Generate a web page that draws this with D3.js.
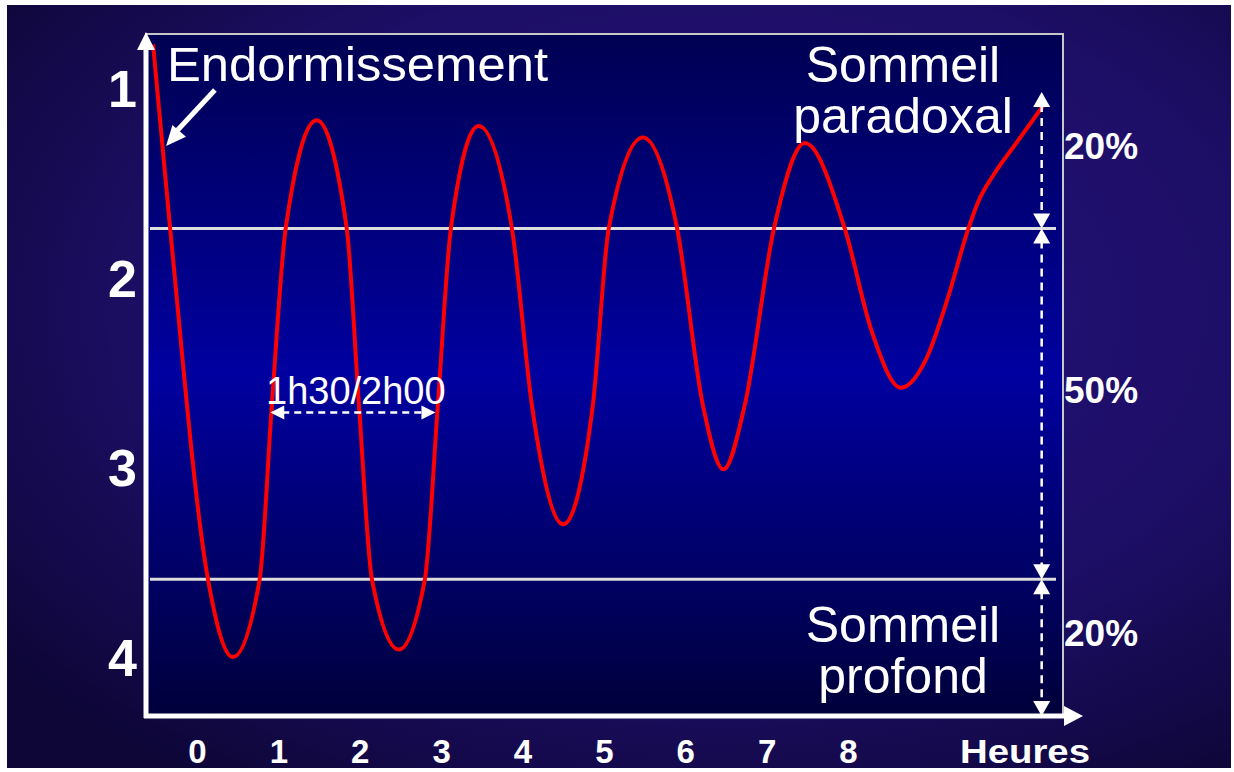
<!DOCTYPE html>
<html>
<head>
<meta charset="utf-8">
<script src="https://cdn.jsdelivr.net/npm/d3@7"></script>
<style>
  body { margin: 0; background: #fff; }
  svg { display: block; }
  text { font-family: "Liberation Sans", Arial, sans-serif; fill: #fff; }
</style>
</head>
<body>
<svg id="graphique" width="1234" height="772"></svg>
<script>
// heures (axe X) et stades de sommeil (axe Y)
const heures = [0, 1, 2, 3, 4, 5, 6, 7, 8];
const stades = [1, 2, 3, 4];
// limites entre sommeil paradoxal / leger / profond
const limites = [1.73, 3.58];
const bandes = [1.01, 1.73, 3.58, 4.3];
const pourcentages = ["20%", "50%", "20%"];
// hypnogramme
const courbeH = [-0.54, -0.33, 0.135, 0.44, 0.77, 0.92, 1.09, 1.47, 1.84, 1.99, 2.15, 2.48, 2.8, 2.96,
  3.12, 3.46, 3.87, 4.115, 4.5, 4.865, 5.06, 5.48, 5.9, 6.216, 6.47, 6.732, 7.09, 7.47, 7.96, 8.29,
  8.65, 8.97, 9.21, 9.48, 9.6, 9.8, 10.05, 10.42];
const courbeStade = [0.76, 1.73, 3.58, 3.99, 3.58, 2.66, 1.73, 1.16, 1.73, 2.66, 3.58, 3.95, 3.58, 2.66,
  1.73, 1.19, 1.73, 2.66, 3.29, 2.66, 1.73, 1.25, 1.73, 2.66, 3.0, 2.66, 1.73, 1.28, 1.73, 2.27,
  2.57, 2.41, 2.12, 1.73, 1.59, 1.44, 1.29, 1.07];
const cycle = [0.9, 2.93];

const svg = d3.select("#graphique");
const width = +svg.attr("width");
const height = +svg.attr("height");

const x = d3.scaleLinear().domain([0, 8]).range([197, 848]);
const y = d3.scaleLinear().domain([1, 4]).range([90, 659]);

const gauche = 146, droite = 1063, haut = 34, bas = 716;

const defs = svg.append("defs");
const fond = defs.append("radialGradient").attr("id", "fond")
  .attr("cx", "58%").attr("cy", "40%").attr("r", "75%");
fond.append("stop").attr("offset", "0%").attr("stop-color", "#26137e");
fond.append("stop").attr("offset", "60%").attr("stop-color", "#1d0e66");
fond.append("stop").attr("offset", "100%").attr("stop-color", "#0d0636");

const panneau = defs.append("linearGradient").attr("id", "panneau")
  .attr("x1", 0).attr("y1", 0).attr("x2", 0).attr("y2", 1);
panneau.append("stop").attr("offset", "0%").attr("stop-color", "#000052");
panneau.append("stop").attr("offset", "50%").attr("stop-color", "#0000a0");
panneau.append("stop").attr("offset", "100%").attr("stop-color", "#00003a");

svg.append("rect").attr("x", 7).attr("y", 5).attr("width", width - 10).attr("height", height - 9)
  .attr("fill", "url(#fond)");

svg.append("rect").attr("x", gauche).attr("y", haut)
  .attr("width", droite - gauche).attr("height", bas - haut)
  .attr("fill", "url(#panneau)").attr("stroke", "#c8c8c8").attr("stroke-width", 2);

// limites horizontales
svg.selectAll("line.limite")
  .data(limites)
  .join("line")
  .attr("class", "limite")
  .attr("x1", gauche + 4).attr("x2", droite - 7)
  .attr("y1", d => y(d)).attr("y2", d => y(d))
  .attr("stroke", "#dcdcdc").attr("stroke-width", 3);

// courbe
const points = courbeH.map((h, i) => [h, courbeStade[i]]);
svg.append("path")
  .datum(points)
  .attr("fill", "none")
  .attr("stroke", "#ff0000")
  .attr("stroke-width", 4)
  .attr("stroke-linejoin", "round")
  .attr("d", d3.line().x(d => x(d[0])).y(d => y(d[1])).curve(d3.curveMonotoneX));

function fleche(xt, yt, angle, long, larg) {
  const a = angle * Math.PI / 180;
  const bx = xt - Math.cos(a) * long, by = yt - Math.sin(a) * long;
  const px = -Math.sin(a) * larg / 2, py = Math.cos(a) * larg / 2;
  svg.append("path")
    .attr("d", `M${xt},${yt}L${bx + px},${by + py}L${bx - px},${by - py}Z`)
    .attr("fill", "#fff");
}

// axes
svg.append("line").attr("x1", gauche).attr("x2", gauche).attr("y1", bas + 2).attr("y2", 48)
  .attr("stroke", "#fff").attr("stroke-width", 5);
fleche(gauche, 32, -90, 18, 18);
svg.append("line").attr("x1", gauche - 2).attr("x2", 1066).attr("y1", bas).attr("y2", bas)
  .attr("stroke", "#fff").attr("stroke-width", 5);
fleche(1083, bas, 0, 19, 20);

const axeX = svg.append("g").attr("transform", `translate(0,${bas})`)
  .call(d3.axisBottom(x).tickValues(heures).tickSize(0).tickPadding(24).tickFormat(d3.format("d")));
axeX.select(".domain").remove();
axeX.selectAll("text").attr("fill", "#fff").style("font-size", "33px").style("font-weight", "bold")
  .style("font-family", "'Liberation Sans', Arial, sans-serif");

const axeY = svg.append("g").attr("transform", `translate(${gauche},0)`)
  .call(d3.axisLeft(y).tickValues(stades).tickSize(0).tickPadding(9).tickFormat(d3.format("d")));
axeY.select(".domain").remove();
axeY.selectAll("text").attr("fill", "#fff").style("font-size", "52px").style("font-weight", "bold")
  .style("font-family", "'Liberation Sans', Arial, sans-serif");

svg.append("text").attr("x", 960).attr("y", 763)
  .attr("textLength", 130).attr("lengthAdjust", "spacingAndGlyphs")
  .style("font-size", "33px").style("font-weight", "bold").text("Heures");

// annotations
svg.append("text").attr("x", 167).attr("y", 81)
  .attr("textLength", 381).attr("lengthAdjust", "spacingAndGlyphs")
  .style("font-size", "49px").text("Endormissement");
svg.append("line").attr("x1", x(0.22)).attr("y1", y(1.0)).attr("x2", x(-0.3)).attr("y2", y(1.24))
  .attr("stroke", "#fff").attr("stroke-width", 5);
fleche(x(-0.38), y(1.295), 131, 20, 18);

const sp = svg.append("text").attr("text-anchor", "middle").style("font-size", "50px");
sp.append("tspan").attr("x", 903).attr("y", 82).text("Sommeil");
sp.append("tspan").attr("x", 903).attr("y", 133).text("paradoxal");
const sf = svg.append("text").attr("text-anchor", "middle").style("font-size", "50px");
sf.append("tspan").attr("x", 903).attr("y", 642).text("Sommeil");
sf.append("tspan").attr("x", 903).attr("y", 693).text("profond");

// cycle 1h30/2h00
const yc = y(2.7);
svg.append("line").attr("x1", x(cycle[0]) + 12).attr("x2", x(cycle[1]) - 12)
  .attr("y1", yc).attr("y2", yc)
  .attr("stroke", "#fff").attr("stroke-width", 2.5).attr("stroke-dasharray", "7,5");
fleche(x(cycle[0]), yc, 180, 14, 14);
fleche(x(cycle[1]), yc, 0, 14, 14);
svg.append("text").attr("x", (x(cycle[0]) + x(cycle[1])) / 2 + 3).attr("y", 404)
  .attr("text-anchor", "middle").style("font-size", "38px").text("1h30/2h00");

// proportions a droite
const xa = x(10.38);
d3.range(3).forEach(i => {
  const y0 = y(bandes[i]), y1 = y(bandes[i + 1]);
  svg.append("line").attr("x1", xa).attr("x2", xa).attr("y1", y0 + 12).attr("y2", y1 - 12)
    .attr("stroke", "#fff").attr("stroke-width", 2.5).attr("stroke-dasharray", "8,6");
  fleche(xa, y0, -90, 15, 17);
  fleche(xa, y1, 90, 15, 17);
  svg.append("text").attr("x", 1064).attr("y", (y0 + y1) / 2 - 11)
    .attr("dominant-baseline", "middle")
    .style("font-size", "37px").style("font-weight", "bold").text(pourcentages[i]);
});
</script>
</body>
</html>
